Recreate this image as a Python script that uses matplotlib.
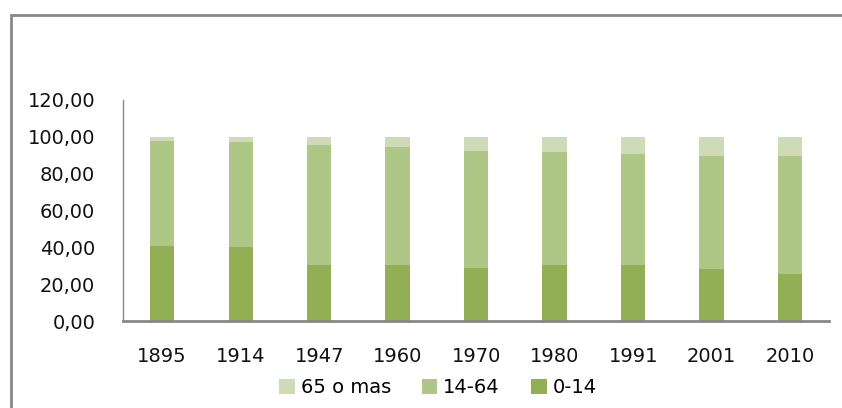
import matplotlib
matplotlib.use('Agg')
import matplotlib.pyplot as plt
from matplotlib.patches import Rectangle
from matplotlib.ticker import FuncFormatter
import numpy as np

years = ['1895', '1914', '1947', '1960', '1970', '1980', '1991', '2001', '2010']
age_0_14 = [40.8, 40.2, 30.4, 30.4, 28.8, 30.4, 30.4, 28.3, 25.5]
age_14_64 = [57.0, 57.1, 65.3, 64.2, 63.6, 61.4, 60.4, 61.4, 64.2]
age_65_plus = [2.2, 2.7, 4.3, 5.4, 7.6, 8.2, 9.2, 10.3, 10.3]

c_young = '#92AF55'
c_mid = '#AEC686'
c_old = '#CEDBB7'

plt.rcParams['font.family'] = ['DejaVu Sans']
fs = 14

fig = plt.figure(figsize=(8.42, 4.08), dpi=100)
ax = fig.add_axes([0.146, 0.213, 0.839, 0.542])

x = np.arange(len(years))
w = 0.31
young = np.array(age_0_14)
mid = np.array(age_14_64)
old = np.array(age_65_plus)

ax.bar(x, young, w, color=c_young, label='0-14', zorder=2)
ax.bar(x, mid, w, bottom=young, color=c_mid, label='14-64', zorder=2)
ax.bar(x, old, w, bottom=young + mid, color=c_old, label='65 o mas', zorder=2)

ax.set_xlim(-0.5, len(years) - 0.5)
ax.set_ylim(0, 120)
ax.set_yticks(np.arange(0, 121, 20))
ax.yaxis.set_major_formatter(FuncFormatter(lambda v, p: f'{v:.2f}'.replace('.', ',')))
ax.set_xticks(x)
ax.set_xticklabels(years)
ax.tick_params(axis='y', length=0, pad=20, labelsize=fs, colors='#111111')
ax.tick_params(axis='x', length=0, pad=19, labelsize=fs, colors='#111111')

for side in ['top', 'right']:
    ax.spines[side].set_visible(False)
ax.spines['left'].set_color('#888888')
ax.spines['left'].set_linewidth(1)
ax.spines['bottom'].set_color('#888888')
ax.spines['bottom'].set_linewidth(2)

handles, labels = ax.get_legend_handles_labels()
fig.legend(handles[::-1], labels[::-1], loc='center', bbox_to_anchor=(0.52, 0.05),
           ncol=3, frameon=False, fontsize=fs, handlelength=0.8, handleheight=0.8,
           handletextpad=0.3, columnspacing=1.6, borderaxespad=0)

# outer chart frame (left and top edges visible)
fig.patches.append(Rectangle((11 / 842, -0.1), 1.2, 1 - 15 / 408 + 0.1,
                             transform=fig.transFigure, fill=False,
                             edgecolor='#888888', linewidth=2))

plt.savefig('out.png', dpi=100)
